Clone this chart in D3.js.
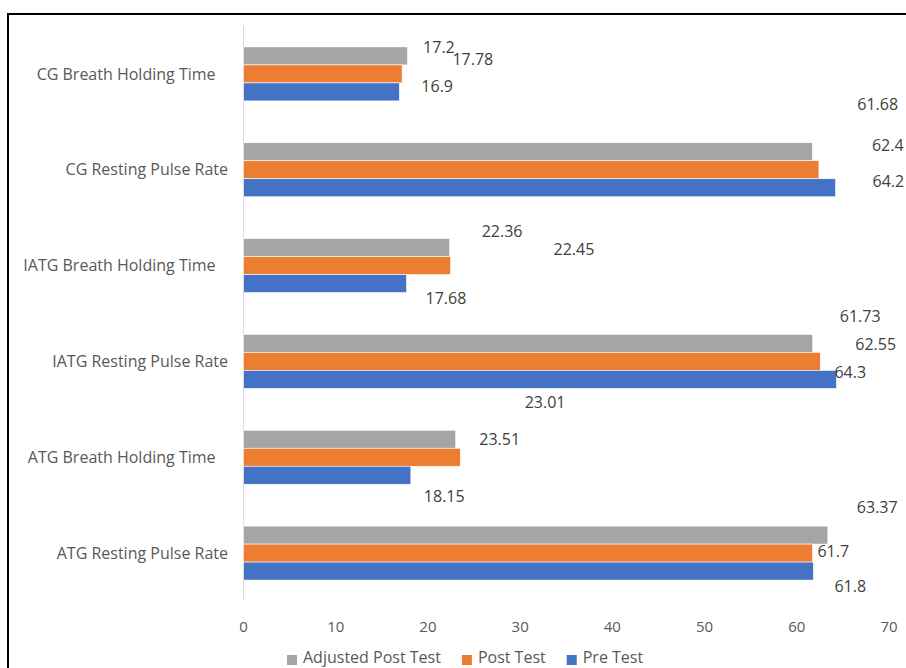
<!DOCTYPE html>
<html>
<head>
<meta charset="utf-8">
<script src="https://cdn.jsdelivr.net/npm/d3@7"></script>
<style>
  html, body { margin: 0; padding: 0; background: #fff; }
  svg { display: block; font-family: "Open Sans", "DejaVu Sans", sans-serif; }
  text { white-space: pre; }
</style>
</head>
<body>
<svg id="chart" width="906" height="668"></svg>
<script>
// Categories, top to bottom
const categories = [
  "CG Breath Holding Time   ",
  "CG Resting Pulse Rate",
  "IATG Breath Holding Time   ",
  "IATG Resting Pulse Rate",
  "ATG Breath Holding Time   ",
  "ATG Resting Pulse Rate"
];

// Series values (same order as categories)
const adjustedPostTest = [17.78, 61.68, 22.36, 61.73, 23.01, 63.37];
const postTest         = [17.2, 62.4, 22.45, 62.55, 23.51, 61.7];
const preTest          = [16.9, 64.2, 17.68, 64.3, 18.15, 61.8];

const seriesNames = ["Adjusted Post Test", "Post Test", "Pre Test"];
const xTicks = [0, 10, 20, 30, 40, 50, 60, 70];

// Data-label nudges [dx, dy] in px from the bar end / bar middle
const labelNudge = {
  "Adjusted Post Test": [[45, 3], [45, -47], [32, -16], [27, -27], [69, -37], [29, -28]],
  "Post Test":          [[21, -27], [53, -24], [103, -16], [35, -17], [19, -18], [5, -2]],
  "Pre Test":           [[22, -6], [37, -6], [19, 15], [-2, -7], [13, 21], [21, 15]]
};

const colors = {
  "Adjusted Post Test": "#A5A5A5",
  "Post Test": "#ED7D31",
  "Pre Test": "#4472C4"
};

const seriesValues = {
  "Adjusted Post Test": adjustedPostTest,
  "Post Test": postTest,
  "Pre Test": preTest
};

const svg = d3.select("#chart");

// Outer frame (left and top edges visible)
svg.append("path")
  .attr("d", "M8,668 V14 H906")
  .attr("fill", "none")
  .attr("stroke", "#000")
  .attr("stroke-width", 2);

const x = d3.scaleLinear().domain([0, 70]).range([243.5, 889]);
const y = d3.scaleBand().domain(categories).range([26, 601]);
const inner = d3.scaleBand().domain(seriesNames).range([-27, 27]);

// Vertical category axis line
svg.append("line")
  .attr("x1", x(0)).attr("x2", x(0))
  .attr("y1", 26).attr("y2", 601)
  .attr("stroke", "#D9D9D9")
  .attr("stroke-width", 1);

// Category labels
svg.append("g").selectAll("text")
  .data(categories)
  .join("text")
  .attr("x", 228)
  .attr("y", d => y(d) + y.bandwidth() / 2)
  .attr("dy", "0.35em")
  .attr("text-anchor", "end")
  .attr("font-size", 16)
  .attr("fill", "#595959")
  .text(d => d);

// Bars
const rows = [];
seriesNames.forEach(s => {
  categories.forEach((c, i) => {
    rows.push({ series: s, cat: c, i: i, value: seriesValues[s][i] });
  });
});

const cy = d => y(d.cat) + y.bandwidth() / 2 + inner(d.series);

svg.append("g").selectAll("rect")
  .data(rows)
  .join("rect")
  .attr("x", x(0))
  .attr("y", d => cy(d))
  .attr("width", d => x(d.value) - x(0))
  .attr("height", inner.bandwidth())
  .attr("fill", d => colors[d.series])
  .attr("stroke", "#fff")
  .attr("stroke-width", 0.6);

// Data labels
svg.append("g").selectAll("text")
  .data(rows)
  .join("text")
  .attr("x", d => x(d.value) + labelNudge[d.series][d.i][0])
  .attr("y", d => cy(d) + inner.bandwidth() / 2 + labelNudge[d.series][d.i][1])
  .attr("dy", "0.35em")
  .attr("font-size", 16)
  .attr("fill", "#404040")
  .text(d => d.value);

// Value axis tick labels
svg.append("g").selectAll("text")
  .data(xTicks)
  .join("text")
  .attr("x", d => x(d))
  .attr("y", 627)
  .attr("dy", "0.35em")
  .attr("text-anchor", "middle")
  .attr("font-size", 15)
  .attr("fill", "#595959")
  .text(d => d);

// Legend
const legend = svg.append("g");
let lx = 287;
seriesNames.forEach(s => {
  legend.append("rect")
    .attr("x", lx).attr("y", 655)
    .attr("width", 10).attr("height", 10)
    .attr("fill", colors[s]);
  const t = legend.append("text")
    .attr("x", lx + 16)
    .attr("y", 663)
    .attr("font-size", 16)
    .attr("fill", "#595959")
    .text(s);
  lx += 16 + t.node().getComputedTextLength() + 21;
});
</script>
</body>
</html>
